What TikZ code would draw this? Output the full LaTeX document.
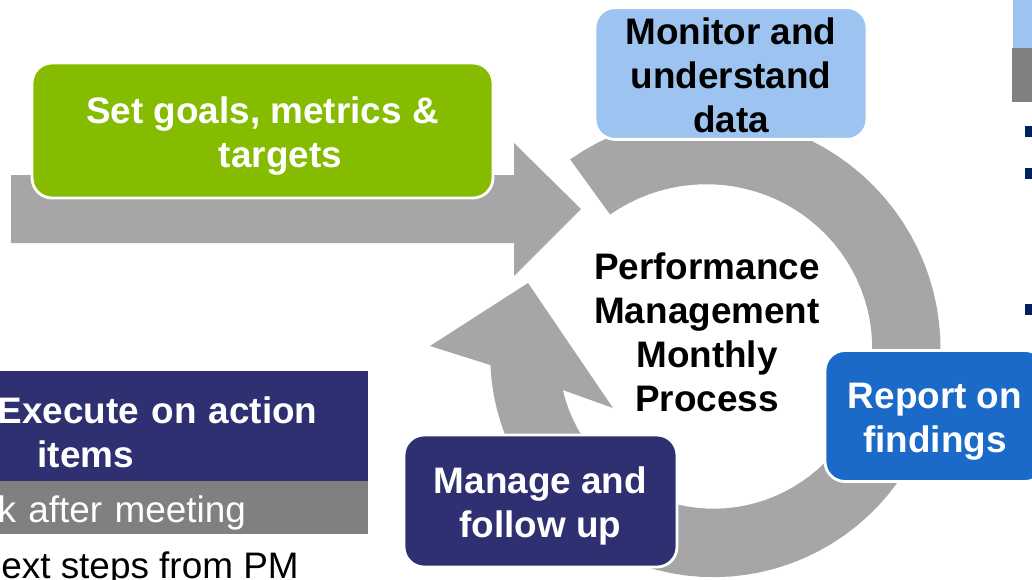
\documentclass[tikz,border=0pt]{standalone}
\usepackage{fontspec}
\setmainfont{Liberation Sans}
\definecolor{goalgreen}{RGB}{133, 188, 0}
\definecolor{monblue}{RGB}{157, 195, 240}
\definecolor{repblue}{RGB}{27, 106, 199}
\definecolor{mgnavy}{RGB}{46, 48, 114}
\definecolor{arrowgray}{RGB}{166, 166, 166}
\definecolor{bargray}{RGB}{128, 128, 128}
\definecolor{bulletnavy}{RGB}{0, 32, 96}
\usetikzlibrary{positioning}
\newcommand{\linetop}{\rule{0pt}{21pt}}
\newcommand{\linebot}{\rule[-4pt]{0pt}{4pt}}

\begin{document}
\begin{tikzpicture}[x=0.02cm, y=-0.02cm,
  stagebox/.style={draw=white, line width=1.6pt, rounded corners=0.4cm, minimum height=2.64cm, align=center, inner sep=0pt, font=\bfseries\fontsize{21}{25}\selectfont},
  sidebar/.style={anchor=north east, text width=7.4cm, inner xsep=0pt, inner ysep=0pt, align=left},
  plaintext/.style={inner sep=0pt, font=\fontsize{21}{25}\selectfont},
  bullet/.style={fill=bulletnavy, minimum size=0.22cm, inner sep=0pt}
]
  \useasboundingbox (0,0) rectangle (1032,579);
  \clip (0,0) rectangle (1032,579);

  \fill[arrowgray] (11,175) -- (514,175) -- (514,143) -- (581,209) -- (514,276) -- (514,243) -- (11,243) -- cycle;
  \fill[arrowgray] plot[domain=234:536.6, samples=80] ({710+(238-18*(\x-234)/302.6)*cos(\x)}, {352+(238-18*(\x-234)/302.6)*sin(\x)})
    -- (430,346) -- (528,283) -- (613,408)
    -- plot[domain=525.5:234, samples=80] ({710+(170-18*(\x-234)/291.5)*cos(\x)}, {352+(170-18*(\x-234)/291.5)*sin(\x)}) -- cycle;

  \node[stagebox, fill=goalgreen, text=white, minimum width=9.22cm, minimum height=2.7cm] (goals) at (262.5,130.5) {\linetop Set goals, metrics \&\\\hspace*{0.72cm}targets\linebot};
  \node[stagebox, fill=monblue, minimum width=5.44cm, minimum height=2.62cm] (monitor) at (731,73.5) {\linetop Monitor and\\understand\\data\linebot};
  \node[stagebox, fill=repblue, text=white, minimum width=4.4cm, minimum height=2.62cm] (report) at (935,416) {\linetop Report on\\findings\linebot};
  \node[stagebox, fill=mgnavy, text=white, minimum width=5.46cm] (manage) at (540.5,501) {\linetop Manage and\\follow up\linebot};
  \node[align=center, inner sep=0pt, font=\bfseries\fontsize{21}{25}\selectfont] (pmp) at (707,330.4) {\linetop Performance\\Management\\Monthly\\Process\linebot};

  \node[sidebar, fill=mgnavy, text=white, minimum height=2.2cm, font=\bfseries\fontsize{21}{25}\selectfont] (execute) at (368,371) {\rule{0pt}{26pt}Execute on action\\\hspace*{0.8cm}items\linebot};
  \node[sidebar, fill=bargray, text=white, minimum height=1.06cm, plaintext] (feedback) at (368,481) {\linetop k after meeting\linebot};
  \node[plaintext, anchor=base west] (nextsteps) at (1,578) {ext steps from PM};

  \fill[monblue] (1013,-5) rectangle (1040,48);
  \fill[bargray] (1012,48) rectangle (1040,102);
  \foreach \y [count=\i] in {131.5,173.5,309.5}
    \node[bullet] (bullet\i) at (1030.5,\y) {};
\end{tikzpicture}
\end{document}
